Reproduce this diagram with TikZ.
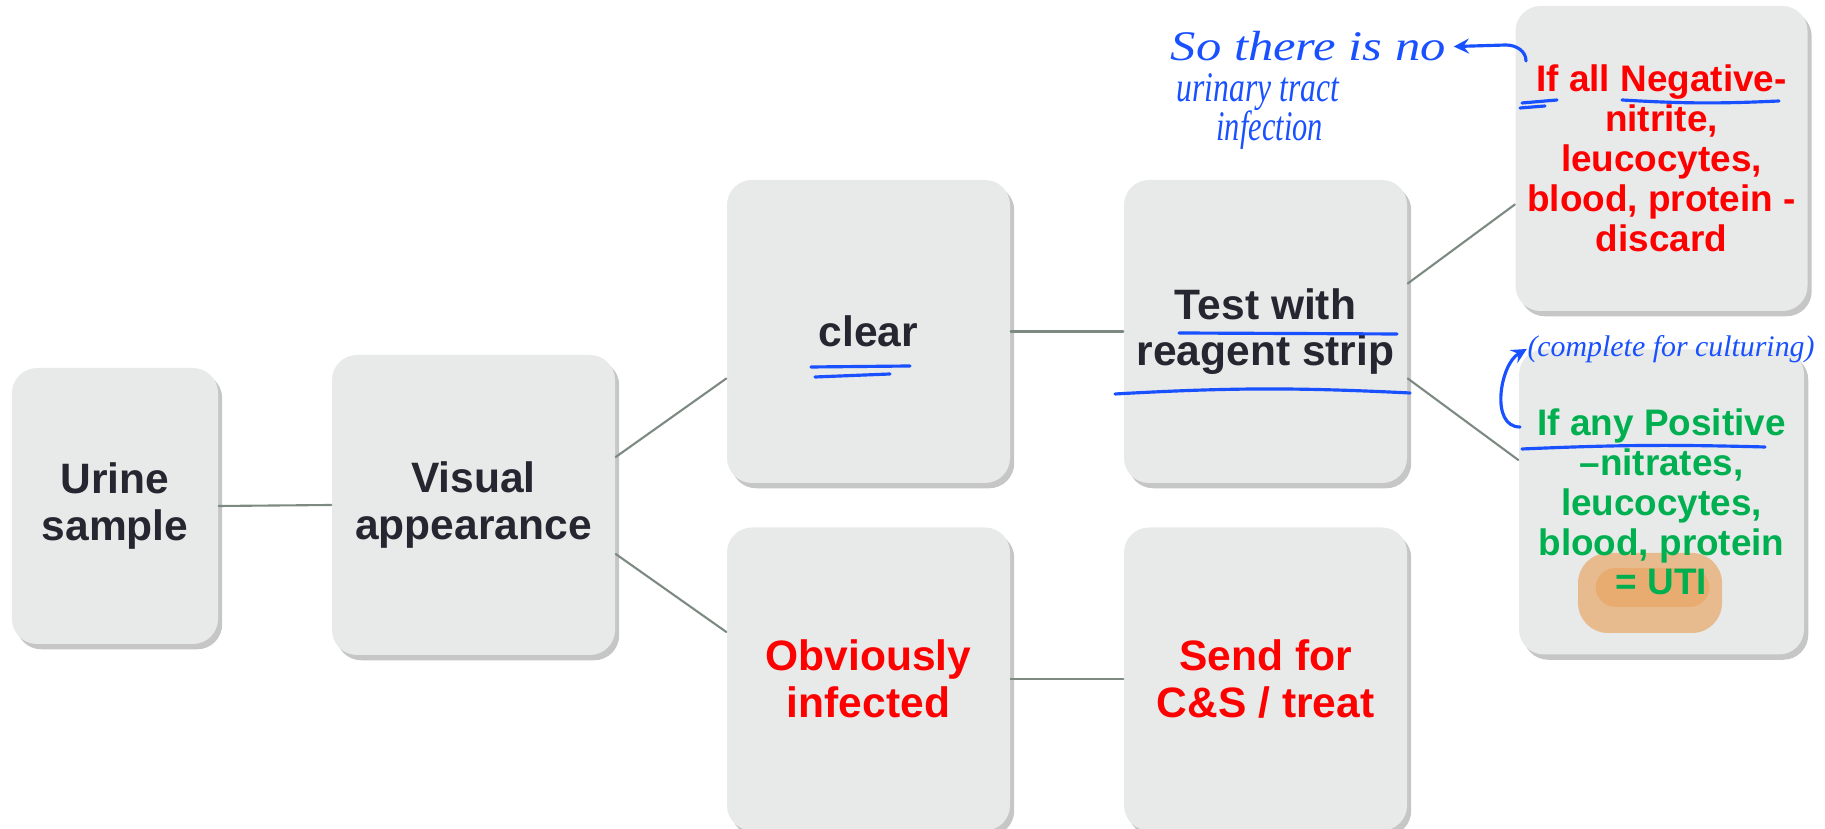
\documentclass[tikz,border=0pt]{standalone}
\usepackage{fontspec}
\setmainfont{Liberation Sans}
\newfontfamily\handfont{Liberation Serif}
\usetikzlibrary{shadows}
\definecolor{boxgray}{RGB}{232,233,233}
\definecolor{textdark}{RGB}{38,38,48}
\definecolor{linegray}{RGB}{125,138,130}
\definecolor{uired}{RGB}{255,0,0}
\definecolor{uigreen}{RGB}{0,176,80}
\definecolor{penblue}{RGB}{25,80,255}
\definecolor{marker}{RGB}{232,150,70}
\tikzset{
	card/.style={fill=boxgray, rounded corners=0.25cm, minimum width=2.83cm, minimum height=3.03cm, align=center, text=textdark,
		font=\bfseries\fontsize{12.1}{13.2}\selectfont,
		drop shadow={shadow xshift=1.2pt, shadow yshift=-1.5pt, opacity=0.45}},
	smallcard/.style={card, minimum width=2.85cm, minimum height=3.05cm, font=\bfseries\fontsize{10.5}{11.35}\selectfont},
	link/.style={draw=linegray, line width=0.6pt},
	pen/.style={draw=penblue, line width=0.9pt, line cap=round, line join=round},
	note/.style={text=penblue, inner sep=0pt, transform shape, font=\handfont\itshape\fontsize{12}{12}\selectfont},
	smallnote/.style={note, font=\handfont\itshape\fontsize{8.5}{8.5}\selectfont},
	% orange marker scribble behind the last line of the green box
	marked/.style={path picture={
		\fill[marker, opacity=0.55, rounded corners=0.3cm] ([shift={(-0.835,-1.31)}]path picture bounding box.center) rectangle ([shift={(0.605,-0.51)}]path picture bounding box.center);
		\fill[marker, opacity=0.4, rounded corners=0.2cm] ([shift={(-0.66,-1.05)}]path picture bounding box.center) rectangle ([shift={(0.48,-0.66)}]path picture bounding box.center);
	}},
}
\begin{document}
\begin{tikzpicture}[>=stealth, line join=round, line cap=round]
	\useasboundingbox (0,0) rectangle (18.25,8.29);
	% boxes
	\node[card, minimum width=2.06cm, minimum height=2.76cm] (urine) at (1.15,3.23) {Urine\\sample};
	\node[card, minimum height=3.0cm] (visual) at (4.735,3.24) {Visual\\appearance};
	\node[card] (clear) at (8.685,4.975) {clear};
	\node[card] (test) at (12.655,4.975) {Test with\\reagent strip};
	\node[card, text=uired] (obv) at (8.685,1.50) {Obviously\\infected};
	\node[card, text=uired] (send) at (12.655,1.50) {Send for\\C\&S / treat};
	\node[smallcard, text=uired] (neg) at (16.615,6.705) {If all Negative-\\nitrite,\\leucocytes,\\blood, protein -\\discard};
	\node[smallcard, marked, text=uigreen] (pos) at (16.615,3.27) {If any Positive\\\textendash nitrates,\\leucocytes,\\blood, protein\\= UTI};
	% connectors
	\draw[link] (urine.east) -- (visual.west);
	\draw[link] ([yshift=0.48cm]visual.east) -- ([yshift=-0.47cm]clear.west);
	\draw[link] ([yshift=-0.49cm]visual.east) -- ([yshift=0.47cm]obv.west);
	\draw[link] (clear.east) -- (test.west);
	\draw[link] ([yshift=0.48cm]test.east) -- ([yshift=-0.46cm]neg.west);
	\draw[link] ([yshift=-0.47cm]test.east) -- ([yshift=0.42cm]pos.west);
	\draw[link] (obv.east) -- (send.west);
	% pen notes
	\node[note, anchor=base west, xscale=1.2] (so) at (11.70,7.68) {So there is no};
	\node[note, anchor=base west, xscale=0.75] (urinary) at (11.76,7.27) {urinary tract};
	\node[note, anchor=base west, xscale=0.72] (infection) at (12.16,6.88) {infection};
	\coordinate (curl) at (15.26,7.68);
	\draw[pen,->] (curl) to[out=90,in=0] ++(-0.2,0.16) -- ([xshift=2pt]so.east);
	\node[smallnote] (cult) at (16.71,4.80) {(complete for culturing)};
	\coordinate (posif) at (15.20,4.02);
	\draw[pen,->] (posif) to[out=180,in=210] (cult.west);
	% underlines
	\draw[pen] (15.22,7.26) -- (15.57,7.29);
	\draw[pen] (15.20,7.21) -- (15.45,7.23);
	\draw[pen] (16.22,7.29) to[bend right=3] (17.79,7.28);
	\draw[pen] (8.11,4.62) -- (9.10,4.63);
	\draw[pen] (8.15,4.52) -- (8.90,4.55);
	\draw[pen] (11.79,4.96) -- (13.97,4.95);
	\draw[pen] (11.15,4.35) to[bend left=3] (14.10,4.36);
	\draw[pen] (15.22,3.80) to[bend left=2] (17.65,3.82);
\end{tikzpicture}
\end{document}
